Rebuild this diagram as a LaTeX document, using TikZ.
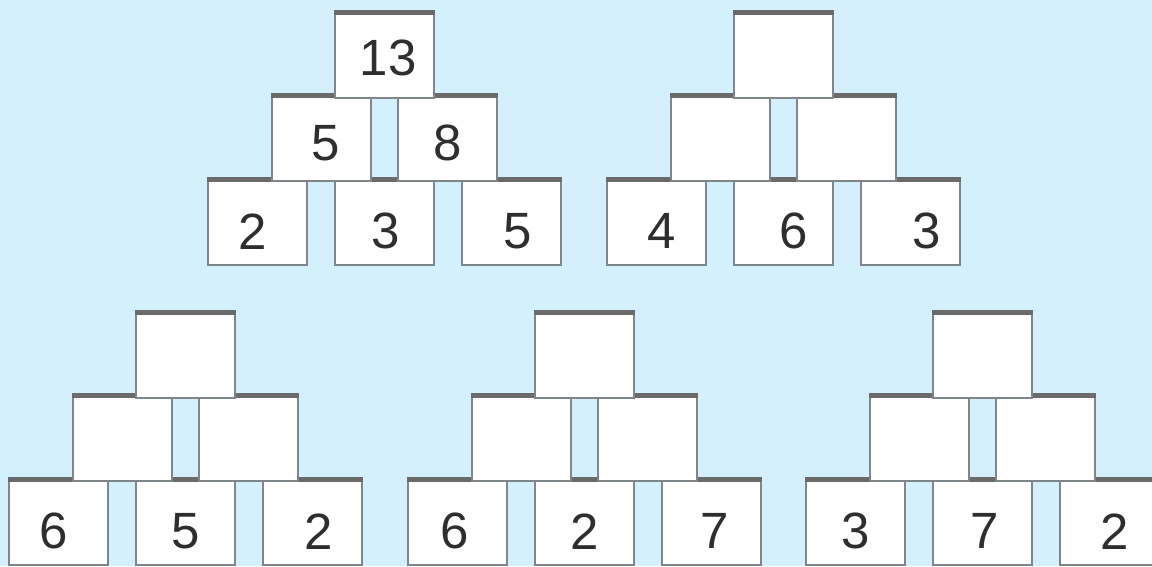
\documentclass[tikz,border=0pt]{standalone}
\usepackage{fontspec}
\setmainfont{Liberation Sans}
\definecolor{bg}{HTML}{D3F0FC}
\definecolor{edge}{HTML}{7E868A}
\definecolor{band}{HTML}{6A6A6A}
\definecolor{ink}{HTML}{2E2E2E}
\tikzset{
  blk/.style={rectangle, draw=edge, line width=1.5pt, fill=white, inner sep=0pt,
    minimum width=99pt, minimum height=87pt, anchor=north west},
  topband/.style={draw=band, line width=5pt},
  num/.style={inner sep=0pt, text=ink, font=\fontsize{51}{51}\selectfont}
}
\newcommand\bx[6]{%
  \node[blk] (#1) at (#2,#3) {};
  \draw[topband] ([yshift=-2.5pt]#1.north west) -- ([yshift=-2.5pt]#1.north east);
  \node[num] (#1t) at ([xshift=#4pt,yshift=-#5pt]#1.center) {#6};
}
\begin{document}
\begin{tikzpicture}[x=1pt,y=-1pt]
\useasboundingbox (0,0) rectangle (1152,566);
\fill[bg] (0,0) rectangle (1152,566);
\clip (0,0) rectangle (1152,566);
% pyramid 1
\bx{aa}{207}{177}{-5}{10}{2}
\bx{ab}{334}{177}{1}{10}{3}
\bx{ac}{461}{177}{6}{10}{5}
\bx{ad}{271}{93}{4}{6}{5}
\bx{ae}{397}{93}{0}{6}{8}
\bx{af}{334}{10}{4}{4}{13}
% pyramid 2
\bx{ba}{606}{177}{5}{10}{4}
\bx{bb}{733}{177}{10}{10}{6}
\bx{bc}{860}{177}{16}{10}{3}
\bx{bd}{670}{93}{0}{6}{}
\bx{be}{796}{93}{0}{6}{}
\bx{bf}{733}{10}{0}{4}{}
% pyramid 3
\bx{ca}{8}{477}{-5}{10}{6}
\bx{cb}{135}{477}{0}{10}{5}
\bx{cc}{262}{477}{6}{10}{2}
\bx{cd}{72}{393}{0}{6}{}
\bx{ce}{198}{393}{0}{6}{}
\bx{cf}{135}{310}{0}{4}{}
% pyramid 4
\bx{da}{407}{477}{-3}{10}{6}
\bx{db}{534}{477}{0}{10}{2}
\bx{dc}{661}{477}{3}{10}{7}
\bx{dd}{471}{393}{0}{6}{}
\bx{de}{597}{393}{0}{6}{}
\bx{df}{534}{310}{0}{4}{}
% pyramid 5
\bx{ea}{805}{477}{0}{10}{3}
\bx{eb}{932}{477}{2}{10}{7}
\bx{ec}{1059}{477}{5}{10}{2}
\bx{ed}{869}{393}{0}{6}{}
\bx{ee}{995}{393}{0}{6}{}
\bx{ef}{932}{310}{0}{4}{}
\end{tikzpicture}
\end{document}
